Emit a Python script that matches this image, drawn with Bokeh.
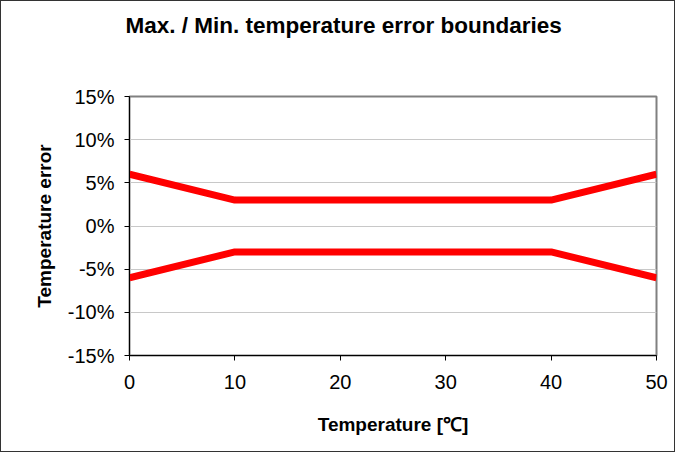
from bokeh.plotting import figure
from bokeh.models import NumeralTickFormatter, FixedTicker, Range1d, Title
from bokeh.embed import file_html
from bokeh.resources import INLINE

temps = [0, 10, 20, 30, 40, 50]
max_err = [0.06, 0.03, 0.03, 0.03, 0.03, 0.06]
min_err = [-0.06, -0.03, -0.03, -0.03, -0.03, -0.06]
y_ticks = [-0.15, -0.10, -0.05, 0.0, 0.05, 0.10, 0.15]
x_ticks = [0, 10, 20, 30, 40, 50]
title_text = "Max. / Min. temperature error boundaries"

FONT = "Liberation Sans"

p = figure(width=675, height=452, output_backend="svg", toolbar_location=None,
           x_range=Range1d(0, 50), y_range=Range1d(-0.15, 0.15),
           min_border_left=128, min_border_right=20, min_border_top=95, min_border_bottom=98)
p.styles = {"border": "1px solid #333333", "box-sizing": "border-box"}

# spacer panel between the title and the plot frame (closest to the frame)
spacer = Title(text=" ", text_font=FONT, text_font_size="22.5px", standoff=27)
p.add_layout(spacer, "above")
main_title = Title(text=title_text, text_font=FONT, text_font_style="bold",
                   text_font_size="22.5px", text_color="black",
                   align="left", offset=-4, standoff=10)
p.add_layout(main_title, "above")

p.line(temps, max_err, line_color="#ff0000", line_width=7)
p.line(temps, min_err, line_color="#ff0000", line_width=7)

p.outline_line_color = "#808080"
p.outline_line_width = 2
p.xgrid.visible = False
p.ygrid.ticker = FixedTicker(ticks=y_ticks)
p.ygrid.grid_line_color = "#c8c8c8"
p.ygrid.grid_line_width = 1

for ax in (p.xaxis[0], p.yaxis[0]):
    ax.axis_line_color = "black"
    ax.major_tick_line_color = "black"
    ax.major_tick_in = 0
    ax.major_tick_out = 5
    ax.minor_tick_line_color = None
    ax.major_label_text_font = FONT
    ax.major_label_text_font_size = "20px"
    ax.major_label_text_color = "black"
    ax.axis_label_text_font = FONT
    ax.axis_label_text_font_style = "bold"
    ax.axis_label_text_font_size = "19px"
    ax.axis_label_text_color = "black"

p.xaxis.ticker = FixedTicker(ticks=x_ticks)
p.yaxis.ticker = FixedTicker(ticks=y_ticks)
p.yaxis.formatter = NumeralTickFormatter(format="0%")
p.xaxis.axis_label = "Temperature [℃]"
p.yaxis.axis_label = "Temperature error"
p.xaxis.major_label_standoff = 14
p.yaxis.major_label_standoff = 10
p.xaxis.axis_label_standoff = 22
p.yaxis.axis_label_standoff = 10

open("out.html", "w").write(file_html(p, INLINE))
